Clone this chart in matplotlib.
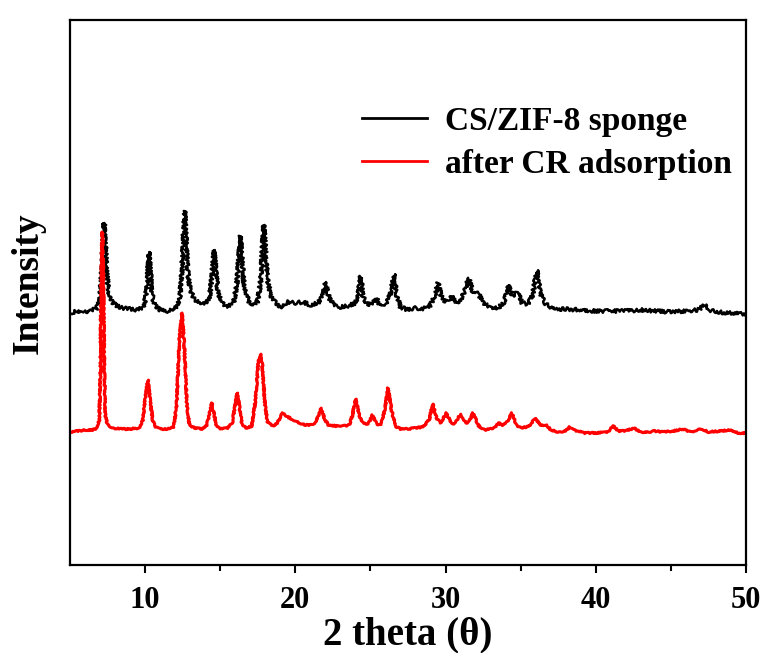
import matplotlib
matplotlib.use("Agg")
import matplotlib.pyplot as plt
from matplotlib.lines import Line2D

# ---- data (intensity in arbitrary units) ----
cs_zif8_theta = [5.0, 5.5, 6.0, 6.5, 6.8, 7.0, 7.1, 7.2, 7.28, 7.36, 7.45, 7.6, 7.8, 8.1, 8.5, 9.0, 9.5,
                 9.9, 10.05, 10.15, 10.26, 10.37, 10.5, 10.7, 11.0, 11.5, 12.0, 12.3, 12.45, 12.55, 12.63,
                 12.72, 12.82, 13.0, 13.3, 13.6, 14.0, 14.3, 14.45, 14.6, 14.72, 14.85, 15.1, 15.5, 15.9,
                 16.1, 16.25, 16.35, 16.45, 16.6, 16.9, 17.2, 17.5, 17.7, 17.82, 17.9, 18.0, 18.15, 18.4,
                 18.8, 19.2, 19.4, 20.0, 20.5, 21.0, 21.5, 21.8, 22.03, 22.25, 22.6, 23.0, 23.5, 24.0,
                 24.2, 24.35, 24.5, 24.8, 25.2, 25.4, 25.6, 26.0, 26.3, 26.6, 26.75, 27.0, 27.5, 28.0,
                 28.5, 29.0, 29.3, 29.5, 29.7, 30.0, 30.25, 30.43, 30.7, 31.0, 31.3, 31.54, 31.8, 32.2,
                 32.5, 33.0, 33.5, 33.9, 34.2, 34.45, 34.8, 35.1, 35.5, 35.8, 36.08, 36.3, 36.6, 37.0,
                 37.5, 38.0, 39.0, 40.0, 41.0, 42.0, 43.0, 44.0, 45.0, 46.0, 46.8, 47.25, 47.6, 48.0,
                 49.0, 50.0]
cs_zif8_int = [252, 254, 253, 255, 257, 268, 290, 325, 342, 320, 290, 272, 263, 259, 257, 256, 255,
               258, 268, 290, 313, 288, 267, 259, 255, 254, 257, 265, 295, 330, 354,
               328, 295, 275, 265, 262, 262, 268, 290, 315, 292, 272, 262, 258, 263,
               280, 310, 329, 305, 277, 263, 260, 264, 285, 320, 340, 318, 285, 268,
               260, 258, 263, 262, 263, 260, 262, 268, 283, 267, 259, 258, 259, 262,
               272, 289, 268, 260, 263, 267, 260, 261, 270, 291, 270, 258, 255, 257,
               256, 260, 270, 282, 270, 263, 266, 269, 262, 265, 275, 287, 274, 271,
               262, 258, 257, 263, 280, 269, 273, 262, 261, 270, 295, 272, 262, 258,
               256, 256, 255, 254, 254, 254, 255, 254, 253, 254, 255, 260, 255, 253,
               252, 251]

after_cr_theta = [5.0, 5.5, 6.0, 6.5, 6.8, 6.95, 7.02, 7.08, 7.15, 7.22, 7.28, 7.35, 7.5, 7.8, 8.5,
                  9.0, 9.6, 9.85, 10.0, 10.18, 10.35, 10.5, 10.7, 11.0, 11.5, 11.9, 12.1, 12.28, 12.45,
                  12.6, 12.78, 12.95, 13.3, 13.8, 14.1, 14.3, 14.44, 14.6, 14.75, 15.0, 15.5, 15.8,
                  16.0, 16.13, 16.28, 16.45, 16.7, 17.1, 17.35, 17.55, 17.67, 17.8, 17.98, 18.15,
                  18.5, 18.8, 19.15, 19.5, 19.9, 20.3, 20.7, 21.2, 21.45, 21.7, 21.95, 22.2, 22.7,
                  23.2, 23.6, 23.8, 24.02, 24.25, 24.5, 24.85, 25.13, 25.4, 25.7, 25.95, 26.17, 26.4,
                  26.65, 27.0, 27.5, 28.0, 28.5, 28.9, 29.15, 29.4, 29.65, 30.06, 30.4, 30.65, 30.99,
                  31.35, 31.55, 31.83, 32.2, 32.6, 33.0, 33.3, 33.53, 33.8, 34.1, 34.42, 34.7, 35.0,
                  35.4, 35.7, 35.97, 36.3, 36.74, 37.0, 37.5, 38.0, 38.25, 38.5, 38.84, 39.2, 40.0,
                  40.8, 41.16, 41.5, 42.0, 42.53, 43.0, 43.5, 43.93, 44.5, 45.2, 45.8, 46.3, 47.02,
                  47.5, 48.3, 49.0, 49.5, 50.0]
after_cr_int = [133, 134, 135, 135, 137, 145, 190, 290, 333, 290, 200, 150, 140, 137, 136,
                136, 137, 145, 165, 185, 163, 145, 138, 136, 136, 138, 160, 225, 252,
                222, 160, 140, 137, 136, 140, 152, 162, 150, 139, 136, 137, 142,
                160, 172, 158, 141, 137, 139, 165, 205, 211, 200, 160, 143,
                139, 142, 152, 148, 145, 142, 140, 140, 146, 157, 146, 140, 139,
                139, 140, 150, 166, 150, 142, 141, 150, 141, 140, 155, 177, 155,
                139, 136, 136, 137, 138, 145, 161, 147, 142, 152, 141, 142, 151,
                142, 143, 152, 139, 135, 136, 138, 142, 140, 143, 152, 140, 137,
                138, 141, 147, 140, 140, 135, 133, 134, 138, 135, 134, 132, 132,
                133, 139, 134, 134, 137, 133, 133, 134, 133, 134, 136, 133, 136,
                133, 134, 135, 132, 132]

labels = ["CS/ZIF-8 sponge", "after CR adsorption"]
x_ticks = [10, 20, 30, 40, 50]

# ---- figure ----
plt.rcParams['font.family'] = ['Liberation Serif', 'DejaVu Serif']
plt.rcParams['font.weight'] = 'bold'

fig = plt.figure(figsize=(7.67, 6.53), dpi=100)
ax = fig.add_axes([70 / 767, 88 / 653, 676 / 767, 545 / 653])

l1, = ax.plot(cs_zif8_theta, cs_zif8_int, color='black', lw=1.8, label=labels[0])
l1.set_sketch_params(scale=1.8, length=2.5, randomness=3)
l2, = ax.plot(after_cr_theta, after_cr_int, color='red', lw=2.2, label=labels[1])
l2.set_sketch_params(scale=0.7, length=3, randomness=3)

ax.set_xlim(5, 50)
ax.set_ylim(0, 545)
ax.set_xticks(x_ticks)
ax.set_xticks([15, 25, 35, 45], minor=True)
ax.set_yticks([])
for s in ax.spines.values():
    s.set_linewidth(1.6)
ax.tick_params(axis='x', which='major', direction='out', length=6, width=1.5,
               labelsize=22, pad=9)
ax.tick_params(axis='x', which='minor', direction='out', length=4, width=1.5)
for t in ax.get_xticklabels():
    t.set_fontweight('bold')

ax.set_xlabel('2 theta (θ)', fontsize=28, fontweight='bold', labelpad=1)
ax.set_ylabel('Intensity', fontsize=27, fontweight='bold')
ax.yaxis.set_label_coords(-0.036, 0.517)

handles = [Line2D([], [], color='black', lw=2.0), Line2D([], [], color='red', lw=2.0)]
ax.legend(handles, labels, loc='upper left', bbox_to_anchor=(0.432, 0.843),
          frameon=False, handlelength=1.95, handletextpad=0.55,
          labelspacing=0.37, borderpad=0, borderaxespad=0,
          prop={'weight': 'bold', 'size': 24})

fig.savefig('out.png', dpi=100)
